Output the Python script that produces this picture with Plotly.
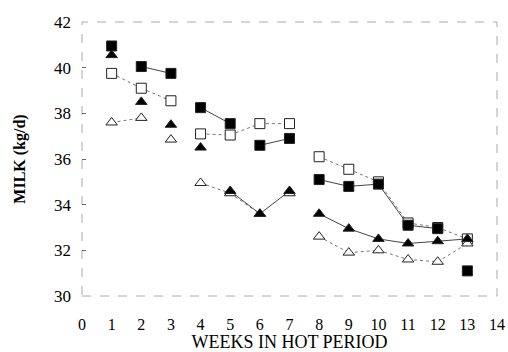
import plotly.graph_objects as go

weeks = list(range(1, 14))
# Filled squares
fsq = [40.95, 40.05, 39.75, 38.25, 37.55, 36.6, 36.9, 35.1, 34.8, 34.9, 33.1, 32.95, 31.1]
fsq_links = [(2, 3), (4, 5), (6, 7), (8, 9), (9, 10), (10, 11), (11, 12)]
# Open squares
osq = [39.75, 39.1, 38.55, 37.1, 37.05, 37.55, 37.55, 36.1, 35.55, 35.0, 33.2, 33.0, 32.5]
osq_links = [(1, 2), (2, 3), (4, 5), (5, 6), (6, 7), (8, 9), (9, 10), (10, 11), (11, 12), (12, 13)]
# Filled triangles
ftr = [40.55, 38.5, 37.5, 36.5, 34.6, 33.6, 34.6, 33.6, 32.95, 32.5, 32.3, 32.4, 32.5]
ftr_links = [(5, 6), (6, 7), (8, 9), (9, 10), (10, 11), (11, 12), (12, 13)]
# Open triangles
otr = [37.6, 37.8, 36.85, 34.95, 34.5, 33.6, 34.5, 32.6, 31.9, 32.0, 31.6, 31.5, 32.3]
otr_links = [(1, 2), (4, 5), (5, 6), (8, 9), (9, 10), (10, 11), (11, 12), (12, 13)]

x_ticks = list(range(0, 15))
y_ticks = [30, 32, 34, 36, 38, 40, 42]

fig = go.Figure()

def add_lines(vals, links, dash, color):
    xs, ys = [], []
    for a, b in links:
        xs += [weeks[a - 1], weeks[b - 1], None]
        ys += [vals[a - 1], vals[b - 1], None]
    fig.add_trace(go.Scatter(x=xs, y=ys, mode="lines", showlegend=False,
                             line=dict(color=color, width=1, dash=dash),
                             hoverinfo="skip"))

add_lines(osq, osq_links, "dot", "#777777")
add_lines(otr, otr_links, "dot", "#777777")
add_lines(fsq, fsq_links, "solid", "#444444")
add_lines(ftr, ftr_links, "solid", "#444444")

def add_markers(vals, symbol, filled):
    fig.add_trace(go.Scatter(
        x=weeks, y=vals, mode="markers", showlegend=False,
        marker=dict(symbol=symbol, size=10,
                    color="black" if filled else "white",
                    line=dict(color="#222222", width=1))))

add_markers(osq, "square", False)
add_markers(otr, "triangle-up", False)
add_markers(fsq, "square", True)
add_markers(ftr, "triangle-up", True)

fig.add_shape(type="rect", xref="paper", yref="paper", x0=0, y0=0, x1=1, y1=1,
              line=dict(color="#aaaaaa", width=1, dash="dash"), layer="below")

font = "Liberation Serif"
fig.update_layout(
    width=508, height=352,
    margin=dict(l=82, r=11, t=22, b=56),
    paper_bgcolor="white", plot_bgcolor="white",
    font=dict(family=font, color="black", size=16),
    xaxis=dict(range=[0, 14], tickvals=x_ticks, ticktext=[str(v) for v in x_ticks],
               showgrid=False, zeroline=False, showline=False, ticks="",
               automargin=False,
               ticklabelstandoff=17, tickfont=dict(size=16, family=font),
               title=dict(text="WEEKS IN HOT PERIOD", standoff=2,
                          font=dict(size=18, family=font))),
    yaxis=dict(range=[30, 42], tickvals=y_ticks, ticktext=[str(v) for v in y_ticks],
               showgrid=False, zeroline=False, showline=False,
               ticks="inside", ticklen=4, tickcolor="#666666",
               automargin=False,
               ticklabelstandoff=10, tickfont=dict(size=17, family=font),
               title=dict(text="<b>MILK (kg/d)</b>", standoff=24,
                          font=dict(size=16, family=font))),
)

fig.write_html("out.html")
